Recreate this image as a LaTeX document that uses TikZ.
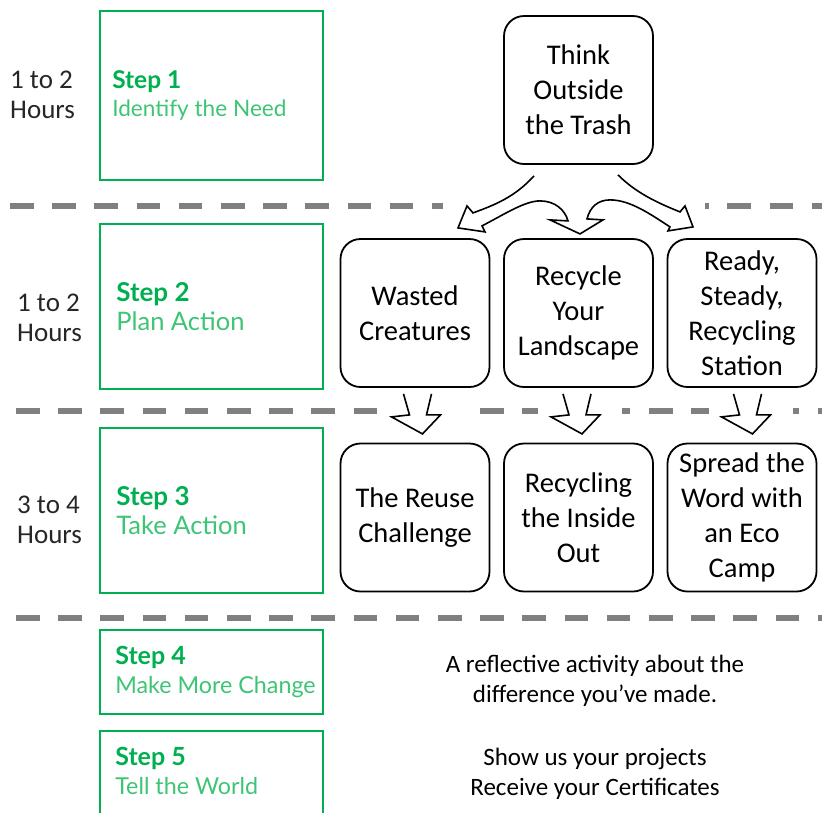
\documentclass[tikz,border=0pt]{standalone}
\usepackage{fontspec}
\setmainfont{Carlito}
\newfontfamily\lato{Lato}
\usepackage{tikz}
\usepackage{xcolor}
\definecolor{stepgreen}{HTML}{00B050}
\definecolor{lightgreen}{HTML}{3DC474}
\definecolor{dashgray}{HTML}{808080}
\definecolor{hourgray}{HTML}{262626}

\tikzset{
  activity/.style={draw, line width=1.8pt, rounded corners=20pt, minimum width=149pt, minimum height=148pt, align=center, inner sep=2pt, font=\fontsize{28.5}{35}\selectfont},
  stepbox/.style={draw=stepgreen, line width=1.8pt, minimum width=223pt, inner sep=0pt},
  steptext/.style={anchor=west, align=left, inner sep=0pt, text=lightgreen, font=\lato\fontsize{#1}{28.5}\selectfont},
  hours/.style={anchor=west, align=left, inner sep=0pt, text=hourgray, font=\fontsize{27}{30}\selectfont},
  note/.style={align=center, inner sep=0pt, font=\fontsize{25}{30.5}\selectfont},
  divider/.style={draw=dashgray, line width=6.5pt, dash pattern=on 23.5pt off 18.7pt},
  blockarrow/.style={draw, line width=1.6pt, fill=white, line join=miter}
}

\newcommand\steplabel[2]{\fontsize{#1}{28.5}\selectfont\textcolor{stepgreen}{\bfseries #2}}

\newcommand\dropto[2]{%
  \begin{scope}[shift={(#1.south)}, shift={(#2,46)}]
    \fill[white] (-44,-43) rectangle (40,3);
    \draw[blockarrow] (-19,-40) -- (-13,-19) -- (-31,-17) -- (0,0) -- (18,-19) -- (4,-19) -- (9,-40);
  \end{scope}}

\begin{document}
\begin{tikzpicture}[x=1pt,y=-1pt,edge from parent/.style={draw=none},level 1/.style={sibling distance=163.5pt,level distance=223pt},level 2/.style={level distance=204.5pt}]
  \useasboundingbox (0,0) rectangle (822,812);

  \draw[divider] (10,206) -- (822,206);
  \draw[divider] (16,411) -- (822,411);
  \draw[divider] (16,618) -- (822,618);

  \node[hours] (h1) at (10,95) {1 to 2\\Hours};
  \node[hours] (h2) at (17,318) {1 to 2\\Hours};
  \node[hours] (h3) at (17,520) {3 to 4\\Hours};

  \node[stepbox, minimum height=169pt] (s1) at (211.5,95.5) {};
  \node[stepbox, minimum height=165pt] (s2) at (211.5,306.5) {};
  \node[stepbox, minimum height=165pt] (s3) at (211.5,510.5) {};
  \node[stepbox, minimum height=84pt] (s4) at (211.5,672) {};
  \node[stepbox, minimum height=100pt] (s5) at (211.5,781) {};

  \node[steptext=22.6] (t1) at ([xshift=13pt]s1.west) {\steplabel{24.5}{Step 1}\\Identify the Need};
  \node[steptext=25.5] (t2) at ([xshift=17pt]s2.west) {\steplabel{26}{Step 2}\\Plan Action};
  \node[steptext=25.5] (t3) at ([xshift=17pt]s3.west) {\steplabel{26}{Step 3}\\Take Action};
  \node[steptext=23.3] (t4) at ([xshift=16pt]s4.west) {\steplabel{25}{Step 4}\\Make More Change};
  \node[steptext=23.3] (t5) at ([xshift=16pt,yshift=10pt]s5.west) {\steplabel{25}{Step 5}\\Tell the World};

  \node[activity] (think) at (578.5,90) {Think\\Outside\\the Trash}
    child{node[activity] (wasted) {Wasted\\Creatures}
      child{node[activity] (reuse) {The Reuse\\Challenge}}
    }
    child{node[activity] (landscape) {Recycle\\Your\\Landscape}
      child{node[activity] (inside) {Recycling\\the Inside\\Out}}
    }
    child{node[activity] (station) {Ready,\\Steady,\\Recycling\\Station}
      child{node[activity] (camp) {Spread the\\Word with\\an Eco\\Camp}}
    }
  ;

  \begin{scope}[shift={(think.south)}]
    \fill[white] (-135.5,7) rectangle (126.5,73);
    \draw[blockarrow] (-44.5,11) .. controls (-63.5,32) and (-83.5,40) .. (-105.5,48) -- (-111.5,41) -- (-120.5,63) -- (-93.5,67) -- (-96.5,61)
      .. controls (-73.5,49) and (-53.5,36) .. (-38.5,36) .. controls (-23.5,36) and (-13.5,45) .. (-10.5,56) -- (-28.5,55) -- (1.5,69) -- (24.5,55) -- (8.5,54)
      .. controls (11.5,42) and (19.5,35) .. (31.5,35) .. controls (51.5,35) and (71.5,49) .. (91.5,62) -- (89.5,66) -- (114.5,62) -- (106.5,41) -- (101.5,47)
      .. controls (76.5,37) and (56.5,27) .. (39.5,10);
  \end{scope}

  \dropto{wasted}{7.5}
  \dropto{landscape}{3.5}
  \dropto{station}{10.5}

  \node[note] (n4) at (595,681) {A reflective activity about the\\difference you’ve made.};
  \node[note] (n5) at (595,774) {Show us your projects\\Receive your Certificates};
\end{tikzpicture}
\end{document}
